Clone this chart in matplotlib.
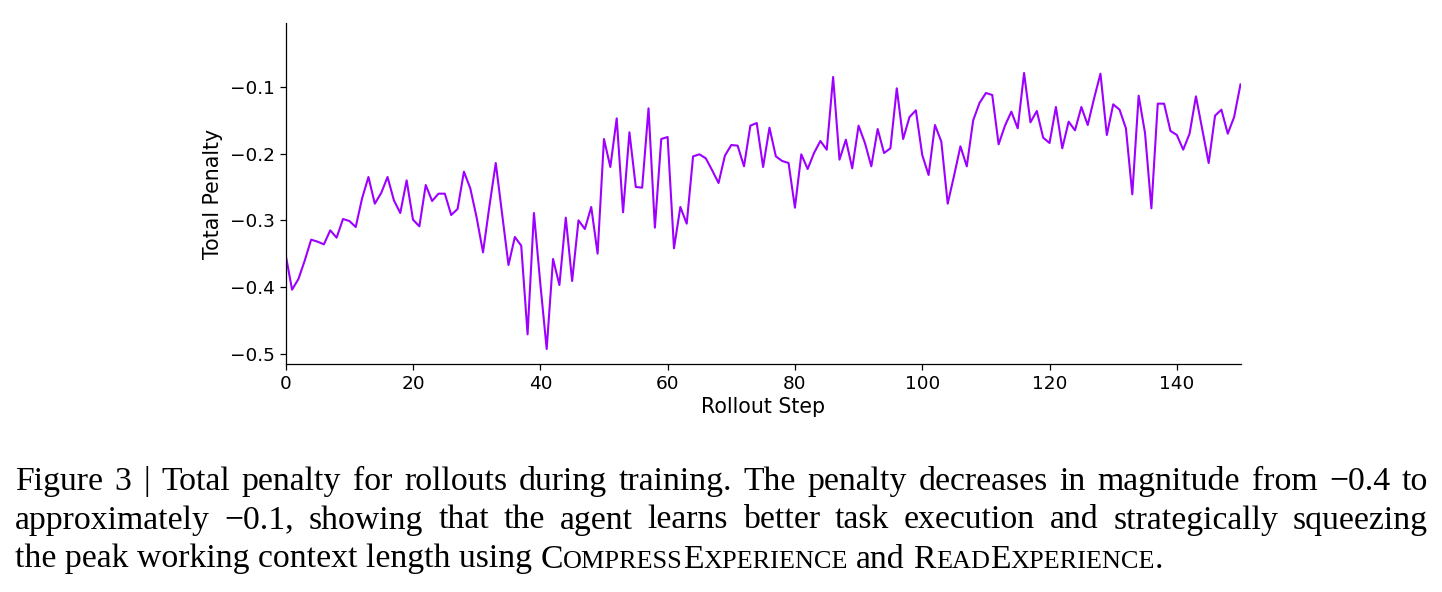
import numpy as np
import matplotlib
matplotlib.use("Agg")
import matplotlib.pyplot as plt

# ---------------- data ----------------
steps = list(range(151))
penalty = [
    -0.352, -0.404, -0.388, -0.360, -0.329, -0.332, -0.336, -0.315, -0.326, -0.298,
    -0.301, -0.310, -0.267, -0.235, -0.275, -0.259, -0.235, -0.270, -0.289, -0.240,
    -0.299, -0.309, -0.247, -0.271, -0.260, -0.260, -0.292, -0.283, -0.227, -0.252,
    -0.296, -0.348, -0.279, -0.214, -0.290, -0.367, -0.325, -0.338, -0.471, -0.289,
    -0.395, -0.493, -0.358, -0.397, -0.296, -0.391, -0.300, -0.313, -0.280, -0.350,
    -0.178, -0.220, -0.147, -0.288, -0.168, -0.250, -0.251, -0.132, -0.311, -0.178,
    -0.175, -0.342, -0.280, -0.305, -0.204, -0.201, -0.207, -0.225, -0.244, -0.203,
    -0.187, -0.188, -0.219, -0.158, -0.154, -0.220, -0.161, -0.204, -0.211, -0.214,
    -0.281, -0.201, -0.223, -0.199, -0.181, -0.194, -0.085, -0.209, -0.179, -0.222,
    -0.158, -0.184, -0.219, -0.163, -0.199, -0.192, -0.102, -0.178, -0.145, -0.135,
    -0.202, -0.232, -0.157, -0.182, -0.275, -0.233, -0.189, -0.219, -0.150, -0.124,
    -0.109, -0.112, -0.186, -0.158, -0.137, -0.162, -0.079, -0.153, -0.136, -0.176,
    -0.184, -0.130, -0.192, -0.152, -0.165, -0.130, -0.157, -0.117, -0.080, -0.172,
    -0.126, -0.134, -0.162, -0.261, -0.113, -0.169, -0.282, -0.125, -0.125, -0.166,
    -0.172, -0.194, -0.170, -0.114, -0.164, -0.214, -0.143, -0.134, -0.170, -0.145,
    -0.096,
]
x_ticks = [0, 20, 40, 60, 80, 100, 120, 140]
y_ticks = [-0.5, -0.4, -0.3, -0.2, -0.1]
x_label = "Rollout Step"
y_label = "Total Penalty"

caption_line1 = ("Figure 3 | Total penalty for rollouts during training. The penalty "
                 "decreases in magnitude from \u22120.4 to")
caption_line2 = ("approximately \u22120.1, showing that the agent learns better task "
                 "execution and strategically squeezing")
# (text, small_caps_flag)
caption_line3 = [
    ("the peak working context length using ", False),
    ("C", False), ("OMPRESS", True), ("E", False), ("XPERIENCE", True),
    (" and ", False),
    ("R", False), ("EAD", True), ("E", False), ("XPERIENCE", True),
    (".", False),
]

# ---------------- figure ----------------
W, H, DPI = 1442, 592, 100
fig = plt.figure(figsize=(W / DPI, H / DPI), dpi=DPI)
fig.patch.set_facecolor("white")

ax = fig.add_axes([285.7 / W, 1 - 364 / H, (1240.5 - 285.7) / W, (364 - 23) / H])
ax.plot(steps, penalty, color="#9d00ff", lw=1.5)
ax.set_xlim(0, 150)
ax.set_ylim(-0.5155, -0.004)
ax.set_xticks(x_ticks)
ax.set_yticks(y_ticks)
ax.tick_params(labelsize=13.3, length=4.5, width=0.9)
ax.set_xlabel(x_label, fontsize=14.8, labelpad=3)
ax.set_ylabel(y_label, fontsize=14.8, labelpad=5)
for s in ("top", "right"):
    ax.spines[s].set_visible(False)
for s in ("left", "bottom"):
    ax.spines[s].set_linewidth(0.9)

# ---------------- caption ----------------
SERIF = "Liberation Serif"
SC = 0.78
renderer = fig.canvas.get_renderer()


def width(s, size):
    t = fig.text(0, 0, s, fontsize=size, family=SERIF)
    w = t.get_window_extent(renderer).width
    t.remove()
    return w


def space_w(size):
    return width("n n", size) - width("nn", size)


def piece_list_width(pieces, size):
    tot = 0.0
    for txt, sc in pieces:
        sz = size * SC if sc else size
        core = txt.strip(" ")
        lead = len(txt) - len(txt.lstrip(" "))
        trail = len(txt) - len(txt.rstrip(" "))
        tot += (lead + trail) * space_w(size)
        if core:
            tot += width(core, sz)
    return tot


x_left, x_right = 15.0, 1428.0
s0 = 20.0
fs1 = s0 * (x_right - x_left - 10) / width(caption_line1, s0)
fs3 = s0 * (1127.0 - x_left) / piece_list_width(caption_line3, s0)
fs = 0.5 * (fs1 + fs3)

baselines = [490.0, 528.5, 567.5]


def draw_justified(line, ypix):
    words = line.split(" ")
    ws = [width(w, fs) for w in words]
    gap = (x_right - x_left - sum(ws)) / (len(words) - 1)
    x = x_left
    for w, wd in zip(words, ws):
        fig.text(x / W, 1 - ypix / H, w, fontsize=fs, family=SERIF,
                 va="baseline", ha="left")
        x += wd + gap


draw_justified(caption_line1, baselines[0])
draw_justified(caption_line2, baselines[1])

x = x_left
for txt, sc in caption_line3:
    sz = fs * SC if sc else fs
    lead = len(txt) - len(txt.lstrip(" "))
    trail = len(txt) - len(txt.rstrip(" "))
    core = txt.strip(" ")
    x += lead * space_w(fs)
    if core:
        fig.text(x / W, 1 - baselines[2] / H, core, fontsize=sz, family=SERIF,
                 va="baseline", ha="left")
        x += width(core, sz)
    x += trail * space_w(fs)

fig.savefig("out.png", dpi=DPI, facecolor="white")
